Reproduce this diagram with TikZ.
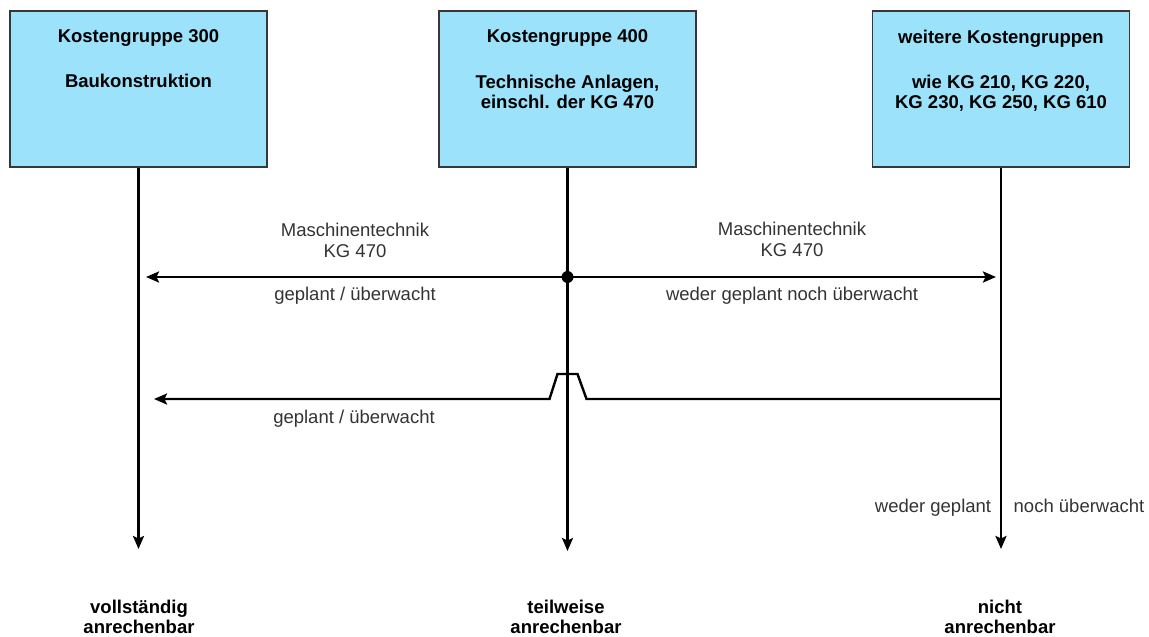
\documentclass[tikz,border=0pt]{standalone}
\usepackage{fontspec}
\setmainfont{Liberation Sans}
\usetikzlibrary{arrows.meta,calc}
\definecolor{boxfill}{RGB}{155,226,250}
\definecolor{boxline}{RGB}{55,55,55}
\begin{document}
\begin{tikzpicture}[x=1pt,y=-1pt,
  kgbox/.style={draw=boxline,line width=1.8pt,fill=boxfill,minimum width=257pt,minimum height=156pt,inner sep=0pt},
  bt/.style={font=\fontsize{18.5}{20}\selectfont\bfseries,anchor=base,inner sep=0pt},
  lt/.style={font=\fontsize{18.5}{20}\selectfont,anchor=base,inner sep=0pt,text=black!80},
  ln/.style={line width=2.4pt,black},
  arr/.style={ln,-{Stealth[length=13pt,width=11pt,inset=2.5pt]}}]
\useasboundingbox (0,0) rectangle (1149,637);
% boxes
\node[kgbox] (b1) at (138.5,89) {};
\node[kgbox] (b2) at (567.5,89) {};
\node[kgbox] (b3) at (1001,89) {};
% box texts
\node[bt] (b1a) at (138.5,42.5) {Kostengruppe 300};
\node[bt] (b1b) at (138.5,87) {Baukonstruktion};
\node[bt] (b2a) at (567.5,42.5) {Kostengruppe 400};
\node[bt] (b2b) at (567.5,88) {Technische Anlagen,};
\node[bt] (b2c) at (567.5,108) {einschl. der KG 470};
\node[bt] (b3a) at (1001,43) {weitere Kostengruppen};
\node[bt] (b3b) at (1001,88) {wie KG 210, KG 220,};
\node[bt] (b3c) at (1001,108) {KG 230, KG 250, KG 610};
% vertical arrows
\coordinate (e1) at (138.5,549);
\coordinate (e2) at (567.5,551);
\coordinate (e3) at (1001,549);
\draw[arr] (b1.south) -- (e1);
\draw[arr] (b2.south) -- (e2);
\draw[arr] (b3.south) -- (e3);
% junction and upper horizontal arrows
\coordinate (j) at (567.5,277);
\coordinate (t1) at (146,277);
\coordinate (t2) at (996,277);
\draw[arr] (j) -- (t1);
\draw[arr] (j) -- (t2);
\fill (j) circle (6pt);
% lower line with bridge
\coordinate (s) at (1001,399);
\coordinate (t3) at (154,399);
\draw[arr,line join=miter] (s) -- ($(j|-s)+(19,0)$) -- ($(j|-s)+(10,-25)$) -- ($(j|-s)+(-10,-25)$) -- ($(j|-s)+(-18,0)$) -- (t3);
% labels
\node[lt] (m1) at (355,236) {Maschinentechnik};
\node[lt] (k1) at (355,257) {KG 470};
\node[lt] (g1) at (355,300) {geplant / überwacht};
\node[lt] (m2) at (792,235) {Maschinentechnik};
\node[lt] (k2) at (792,256) {KG 470};
\node[lt] (w2) at (792,300) {weder geplant noch überwacht};
\node[lt] (g3) at (354,423) {geplant / überwacht};
\node[lt] (w3a) at (933,512) {weder geplant};
\node[lt] (w3b) at (1079,512) {noch überwacht};
% bottom labels
\node[bt] (r1a) at (139,613) {vollständig};
\node[bt] (r1b) at (139,633) {anrechenbar};
\node[bt] (r2a) at (566,613) {teilweise};
\node[bt] (r2b) at (566,633) {anrechenbar};
\node[bt] (r3a) at (1000,613) {nicht};
\node[bt] (r3b) at (1000,633) {anrechenbar};
\end{tikzpicture}
\end{document}
